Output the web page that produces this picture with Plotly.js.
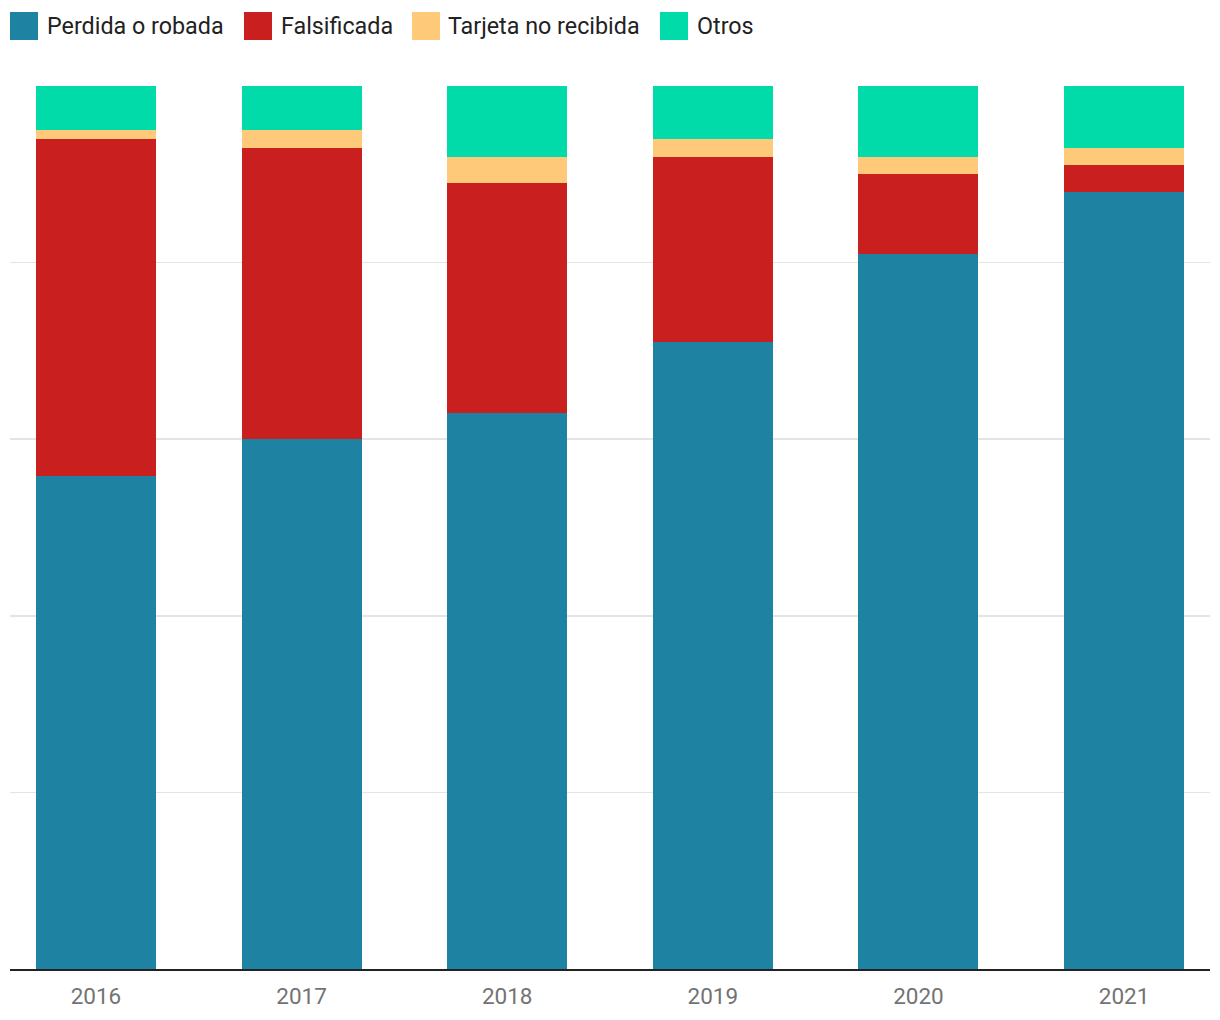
<!DOCTYPE html>
<html>
<head>
<meta charset="utf-8">
<script src="https://cdn.plot.ly/plotly-3.0.1.min.js"></script>
<style>html,body{margin:0;padding:0;background:#fff;}#chart{width:1220px;height:1020px;}</style>
</head>
<body>
<div id="chart"></div>
<script>
const years = ["2016", "2017", "2018", "2019", "2020", "2021"];
const seriesNames = ["Perdida o robada", "Falsificada", "Tarjeta no recibida", "Otros"];
const perdida = [55.8, 60.0, 63.0, 71.0, 81.0, 88.0];
const falsificada = [38.2, 33.0, 26.0, 21.0, 9.0, 3.0];
const noRecibida = [1.0, 2.0, 3.0, 2.0, 2.0, 2.0];
const otros = [5.0, 5.0, 8.0, 6.0, 8.0, 7.0];
const colors = ["#1e82a2", "#c91f1f", "#fec978", "#00dba9"];

const values = [perdida, falsificada, noRecibida, otros];
const traces = values.map((v, i) => ({
  type: "bar",
  name: seriesNames[i],
  x: years,
  y: v,
  marker: {color: colors[i], line: {width: 0}},
  showlegend: false,
  hoverinfo: "x+y+name"
}));

// Plot area in pixels
const W = 1220, H = 1020;
const mL = 10, mR = 10, mT = 86, mB = 51;
const pw = W - mL - mR, ph = H - mT - mB;
const px = x => (x - mL) / pw;
const py = y => (H - mB - y) / ph;

// Manual legend (large squares)
const legendItems = [
  {sq: 10, tx: 45},
  {sq: 244, tx: 279},
  {sq: 412, tx: 446},
  {sq: 660, tx: 695}
];
const shapes = [];
const annotations = [];
legendItems.forEach((it, i) => {
  shapes.push({
    type: "rect", xref: "paper", yref: "paper",
    x0: px(it.sq), x1: px(it.sq + 28), y0: py(40), y1: py(12),
    fillcolor: colors[i], line: {width: 0}
  });
  annotations.push({
    xref: "paper", yref: "paper", x: px(it.tx), y: py(26),
    xanchor: "left", yanchor: "middle", showarrow: false,
    text: seriesNames[i],
    font: {family: "Roboto", size: 23.3, color: "#222222"}
  });
});

const layout = {
  width: W, height: H,
  margin: {l: mL, r: mR, t: mT, b: mB, pad: 0},
  paper_bgcolor: "#ffffff",
  plot_bgcolor: "#ffffff",
  barmode: "stack",
  bargap: 0.416,
  showlegend: false,
  font: {family: "Roboto", color: "#222"},
  xaxis: {
    type: "category",
    range: [-0.418, 5.418],
    showline: true, linecolor: "#222222", linewidth: 2,
    ticks: "outside", ticklen: 6, tickcolor: "rgba(0,0,0,0)",
    tickfont: {family: "Roboto", size: 22.5, color: "#737373"},
    showgrid: false, fixedrange: true
  },
  yaxis: {
    range: [0, 100],
    dtick: 20,
    showticklabels: false,
    gridcolor: "#e4e4e4", gridwidth: 1.5,
    zeroline: false,
    fixedrange: true
  },
  shapes: shapes,
  annotations: annotations
};

Plotly.newPlot("chart", traces, layout, {displayModeBar: false, staticPlot: true});
</script>
</body>
</html>
